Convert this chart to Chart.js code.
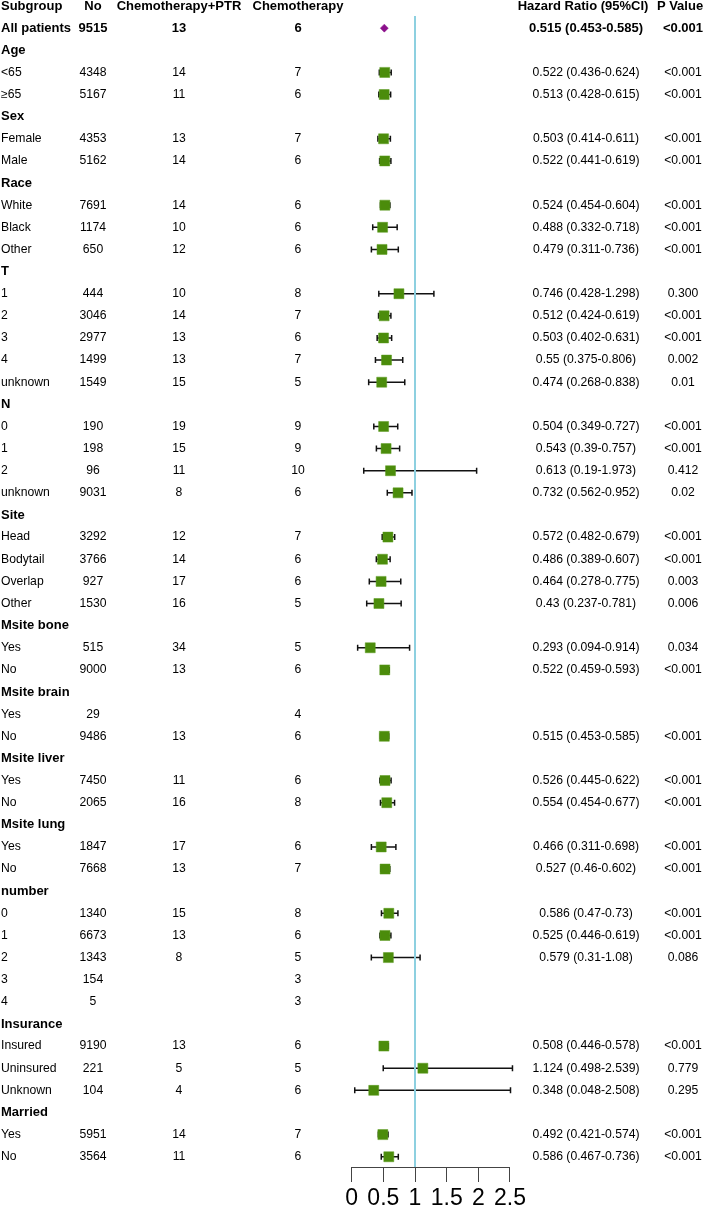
<!DOCTYPE html>
<html lang="en">
<head>
  <meta charset="UTF-8">
  <title>Subgroup forest plot</title>
  <script src="https://cdn.jsdelivr.net/npm/chart.js"></script>
  <style>
    html, body { margin: 0; padding: 0; background: #fff; }
    #wrap { width: 709px; height: 1211px; position: relative; }
  </style>
</head>
<body>
<div id="wrap"><canvas id="forest"></canvas></div>
<script>
  // column headers
  const headerRow = ["Subgroup", "No", "Chemotherapy+PTR", "Chemotherapy", "Hazard Ratio (95%CI)", "P Value"];

  // one entry per row below the header; null count = group heading
  const subgroups = [
    "All patients",
    "Age", "<65", "≥65",
    "Sex", "Female", "Male",
    "Race", "White", "Black", "Other",
    "T", "1", "2", "3", "4", "unknown",
    "N", "0", "1", "2", "unknown",
    "Site", "Head", "Bodytail", "Overlap", "Other",
    "Msite bone", "Yes", "No",
    "Msite brain", "Yes", "No",
    "Msite liver", "Yes", "No",
    "Msite lung", "Yes", "No",
    "number", "0", "1", "2", "3", "4",
    "Insurance", "Insured", "Uninsured", "Unknown",
    "Married", "Yes", "No"
  ];
  const patients = [
    9515,
    null, 4348, 5167,
    null, 4353, 5162,
    null, 7691, 1174, 650,
    null, 444, 3046, 2977, 1499, 1549,
    null, 190, 198, 96, 9031,
    null, 3292, 3766, 927, 1530,
    null, 515, 9000,
    null, 29, 9486,
    null, 7450, 2065,
    null, 1847, 7668,
    null, 1340, 6673, 1343, 154, 5,
    null, 9190, 221, 104,
    null, 5951, 3564
  ];
  const ptrMedian = [
    13,
    null, 14, 11,
    null, 13, 14,
    null, 14, 10, 12,
    null, 10, 14, 13, 13, 15,
    null, 19, 15, 11, 8,
    null, 12, 14, 17, 16,
    null, 34, 13,
    null, null, 13,
    null, 11, 16,
    null, 17, 13,
    null, 15, 13, 8, null, null,
    null, 13, 5, 4,
    null, 14, 11
  ];
  const chemoMedian = [
    6,
    null, 7, 6,
    null, 7, 6,
    null, 6, 6, 6,
    null, 8, 7, 6, 7, 5,
    null, 9, 9, 10, 6,
    null, 7, 6, 6, 5,
    null, 5, 6,
    null, 4, 6,
    null, 6, 8,
    null, 6, 7,
    null, 8, 6, 5, 3, 3,
    null, 6, 5, 6,
    null, 7, 6
  ];
  const hazard = [
    0.515,
    null, 0.522, 0.513,
    null, 0.503, 0.522,
    null, 0.524, 0.488, 0.479,
    null, 0.746, 0.512, 0.503, 0.55, 0.474,
    null, 0.504, 0.543, 0.613, 0.732,
    null, 0.572, 0.486, 0.464, 0.43,
    null, 0.293, 0.522,
    null, null, 0.515,
    null, 0.526, 0.554,
    null, 0.466, 0.527,
    null, 0.586, 0.525, 0.579, null, null,
    null, 0.508, 1.124, 0.348,
    null, 0.492, 0.586
  ];
  const ciLow = [
    0.453,
    null, 0.436, 0.428,
    null, 0.414, 0.441,
    null, 0.454, 0.332, 0.311,
    null, 0.428, 0.424, 0.402, 0.375, 0.268,
    null, 0.349, 0.39, 0.19, 0.562,
    null, 0.482, 0.389, 0.278, 0.237,
    null, 0.094, 0.459,
    null, null, 0.453,
    null, 0.445, 0.454,
    null, 0.311, 0.46,
    null, 0.47, 0.446, 0.31, null, null,
    null, 0.446, 0.498, 0.048,
    null, 0.421, 0.467
  ];
  const ciHigh = [
    0.585,
    null, 0.624, 0.615,
    null, 0.611, 0.619,
    null, 0.604, 0.718, 0.736,
    null, 1.298, 0.619, 0.631, 0.806, 0.838,
    null, 0.727, 0.757, 1.973, 0.952,
    null, 0.679, 0.607, 0.775, 0.781,
    null, 0.914, 0.593,
    null, null, 0.585,
    null, 0.622, 0.677,
    null, 0.698, 0.602,
    null, 0.73, 0.619, 1.08, null, null,
    null, 0.578, 2.539, 2.508,
    null, 0.574, 0.736
  ];
  const pValues = [
    "<0.001",
    null, "<0.001", "<0.001",
    null, "<0.001", "<0.001",
    null, "<0.001", "<0.001", "<0.001",
    null, "0.300", "<0.001", "<0.001", "0.002", "0.01",
    null, "<0.001", "<0.001", "0.412", "0.02",
    null, "<0.001", "<0.001", "0.003", "0.006",
    null, "0.034", "<0.001",
    null, null, "<0.001",
    null, "<0.001", "<0.001",
    null, "<0.001", "<0.001",
    null, "<0.001", "<0.001", "0.086", null, null,
    null, "<0.001", "0.779", "0.295",
    null, "<0.001", "<0.001"
  ];
  const xTicks = [0, 0.5, 1, 1.5, 2, 2.5];

  const FAMILY = "'Liberation Sans', Arial, sans-serif";
  const Y_MIN = -0.2711, Y_MAX = 52.463;
  const colX = { label: 1, no: 93, ptr: 179, chemo: 298, hr: 586, p: 683 };

  // row k of the lists sits at y = k + 1 (header is y = 0)
  const boxes = [];
  hazard.forEach((h, k) => { if (k > 0 && h != null) boxes.push({ x: h, y: k + 1 }); });

  const whiskers = {
    id: "whiskers",
    beforeDatasetsDraw(chart) {
      const { ctx, scales: { x, y } } = chart;
      ctx.save();
      ctx.strokeStyle = "#111";
      ctx.lineWidth = 1.5;
      hazard.forEach((h, k) => {
        if (k === 0 || h == null) return;
        const py = y.getPixelForValue(k + 1);
        const x0 = x.getPixelForValue(ciLow[k]);
        const x1 = x.getPixelForValue(ciHigh[k]);
        ctx.beginPath();
        ctx.moveTo(x0, py); ctx.lineTo(x1, py);
        ctx.moveTo(x0, py - 3); ctx.lineTo(x0, py + 3);
        ctx.moveTo(x1, py - 3); ctx.lineTo(x1, py + 3);
        ctx.stroke();
      });
      ctx.restore();
    }
  };

  const tableText = {
    id: "tableText",
    afterDraw(chart) {
      const { ctx, scales: { y } } = chart;
      const put = (txt, x, py, align, bold) => {
        if (txt == null) return;
        ctx.font = (bold ? "bold 13px " : "12.2px ") + FAMILY;
        ctx.textAlign = align;
        ctx.fillText(String(txt), x, py);
      };
      ctx.save();
      ctx.fillStyle = "#000";
      ctx.textBaseline = "middle";
      let py = y.getPixelForValue(0);
      put(headerRow[0], colX.label, py, "left", true);
      put(headerRow[1], colX.no, py, "center", true);
      put(headerRow[2], colX.ptr, py, "center", true);
      put(headerRow[3], colX.chemo, py, "center", true);
      put(headerRow[4], colX.hr - 3, py, "center", true);
      put(headerRow[5], colX.p - 3, py, "center", true);
      subgroups.forEach((name, k) => {
        py = y.getPixelForValue(k + 1);
        const bold = k === 0 || patients[k] == null;
        put(name, colX.label, py, "left", bold);
        put(patients[k], colX.no, py, "center", bold);
        put(ptrMedian[k], colX.ptr, py, "center", bold);
        put(chemoMedian[k], colX.chemo, py, "center", bold);
        if (hazard[k] != null) {
          put(hazard[k] + " (" + ciLow[k] + "-" + ciHigh[k] + ")", colX.hr, py, "center", bold);
        }
        put(pValues[k], colX.p, py, "center", bold);
      });
      ctx.restore();
    }
  };

  new Chart(document.getElementById("forest"), {
    type: "scatter",
    data: {
      datasets: [
        {
          type: "line",
          label: "HR = 1",
          data: [{ x: 1, y: 0.45 }, { x: 1, y: Y_MAX }],
          borderColor: "#8dd0e0",
          borderWidth: 2,
          pointRadius: 0,
          order: 3
        },
        {
          label: "Subgroups",
          data: boxes,
          pointStyle: "rect",
          pointRadius: 7.07,
          backgroundColor: "#4b8c0b",
          borderColor: "#5a9a1e",
          borderWidth: 0.5,
          order: 2
        },
        {
          label: "All patients",
          data: [{ x: hazard[0], y: 1 }],
          pointStyle: "rectRot",
          pointRadius: 4,
          backgroundColor: "#8b108b",
          borderColor: "#8b108b",
          borderWidth: 0.5,
          order: 1
        }
      ]
    },
    options: {
      responsive: true,
      maintainAspectRatio: false,
      animation: false,
      layout: { autoPadding: false, padding: { left: 351.7, right: 199, top: 0, bottom: 0 } },
      plugins: {
        legend: { display: false },
        tooltip: { enabled: false }
      },
      scales: {
        x: {
          type: "linear",
          min: 0,
          max: 2.5,
          afterBuildTicks: s => { s.ticks = xTicks.map(v => ({ value: v })); },
          afterFit: s => { s.height = 44; },
          ticks: {
            autoSkip: false,
            maxRotation: 0,
            padding: 3,
            color: "#000",
            font: { family: FAMILY, size: 23 },
            callback: v => String(v)
          },
          grid: { drawOnChartArea: false, drawTicks: true, tickLength: 15, color: "#444" },
          border: { display: true, color: "#444", width: 1 }
        },
        y: {
          type: "linear",
          display: false,
          reverse: true,
          min: Y_MIN,
          max: Y_MAX
        }
      }
    },
    plugins: [whiskers, tableText]
  });
</script>
</body>
</html>
